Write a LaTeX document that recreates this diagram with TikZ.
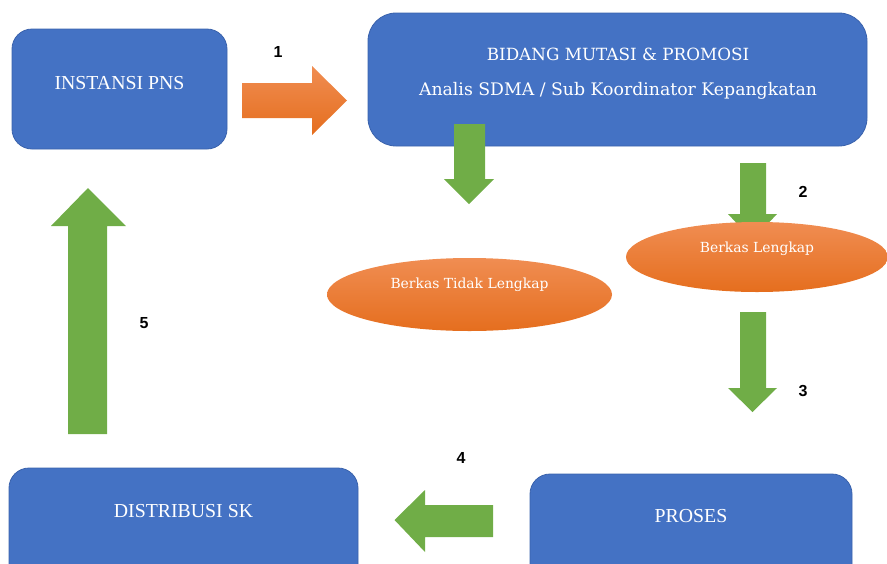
\documentclass[tikz,border=0pt]{standalone}
\usepackage{fontspec}
\setmainfont{Liberation Serif}
\newfontfamily\widefont{DejaVu Serif}
\setsansfont{Liberation Sans}
\usetikzlibrary{shapes.geometric}

\definecolor{boxblue}{HTML}{4472C4}
\definecolor{boxedge}{HTML}{3A62AC}
\definecolor{arrowgreen}{HTML}{70AD47}
\definecolor{orangetop}{HTML}{F08D52}
\definecolor{orangebot}{HTML}{E56E1E}

\tikzset{
  box/.style={draw=boxedge, line width=0.8pt, fill=boxblue, inner sep=0pt},
  boxtext/.style={text=white, inner sep=0pt, font=\fontsize{19.8}{22}\selectfont},
  widetext/.style={text=white, inner sep=0pt, font=\widefont\fontsize{17.3}{20}\selectfont},
  oval/.style={ellipse, inner sep=0pt, top color=orangetop, bottom color=orangebot},
  ovaltext/.style={text=white, inner sep=0pt, font=\widefont\fontsize{13.9}{16}\selectfont},
  greenarrow/.style={fill=arrowgreen},
  orangearrow/.style={top color=orangetop, bottom color=orangebot},
  num/.style={inner sep=0pt, font=\sffamily\bfseries\fontsize{16}{18}\selectfont}
}

\begin{document}
\begin{tikzpicture}[x=1pt,y=-1pt]
\clip (0,0) rectangle (887,563);

% kotak-kotak
\node[box, rounded corners=20pt, minimum width=215, minimum height=120] (instansi) at (119.5,89) {};
\node[boxtext] (instansitxt) at ([yshift=6pt]instansi.center) {INSTANSI PNS};

\node[box, rounded corners=28pt, minimum width=499, minimum height=133] (bidang) at (617.5,79.5) {};
\node[widetext, font=\widefont\fontsize{16.8}{20}\selectfont] (bidangtxt) at (618,54) {BIDANG MUTASI \& PROMOSI};
\node[widetext] (analis) at (618,91) {Analis SDMA / Sub Koordinator Kepangkatan};

\node[box, rounded corners=20pt, minimum width=322, minimum height=120] (proses) at (691,534) {};
\node[boxtext] (prosestxt) at (691,516) {PROSES};

\node[box, rounded corners=20pt, minimum width=349, minimum height=120] (distribusi) at (183.5,528) {};
\node[boxtext] (distribusitxt) at (183.5,511) {DISTRIBUSI SK};

% panah 1
\shade[orangearrow] (242,83) -- (312,83) -- (312,66) -- (347,100.5) -- (312,135) -- (312,118) -- (242,118) -- cycle;
\node[num] (n1) at (278,52) {1};

% panah ke berkas tidak lengkap
\fill[greenarrow] (454,124) -- (485,124) -- (485,179) -- (494,179) -- (469,204) -- (444,179) -- (454,179) -- cycle;

% panah 2
\fill[greenarrow] (740,163) -- (766,163) -- (766,214) -- (777,214) -- (752.5,240) -- (728,214) -- (740,214) -- cycle;
\node[num] (n2) at (803,192) {2};

% elips
\node[oval, minimum width=262, minimum height=70] (lengkap) at (757,257) {};
\node[ovaltext] (lengkaptxt) at ([yshift=8pt]lengkap.center) {Berkas Lengkap};

\node[oval, minimum width=285, minimum height=73] (tidak) at (469.5,294.5) {};
\node[ovaltext] (tidaktxt) at ([yshift=9.5pt]tidak.center) {Berkas Tidak Lengkap};

% panah 3
\fill[greenarrow] (740,312) -- (766,312) -- (766,388) -- (777,388) -- (752.5,412) -- (728,388) -- (740,388) -- cycle;
\node[num] (n3) at (803,391) {3};

% panah 4
\fill[greenarrow] (493,505) -- (425,505) -- (425,490) -- (394.5,520) -- (425,552) -- (425,537) -- (493,537) -- cycle;
\node[num] (n4) at (461,458) {4};

% panah 5
\fill[greenarrow] (68,434) -- (68,226) -- (51,226) -- (88,188) -- (126,226) -- (107,226) -- (107,434) -- cycle;
\node[num] (n5) at (144,323) {5};
\end{tikzpicture}
\end{document}
